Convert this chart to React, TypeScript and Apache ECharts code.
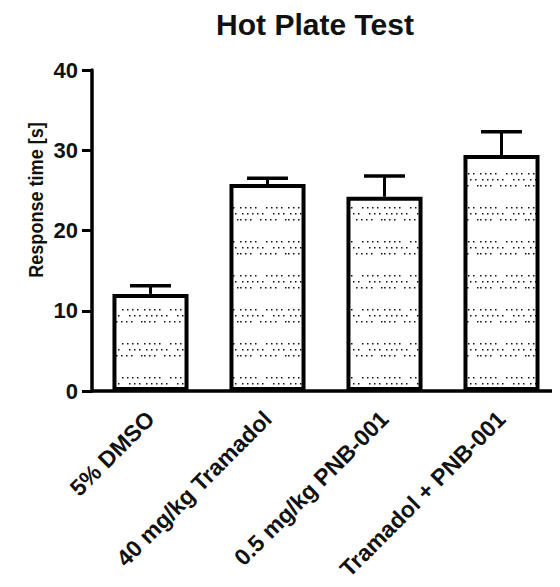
import React, { useEffect, useRef } from "react";
import * as echarts from "echarts";

const categories = ["5% DMSO", "40 mg/kg Tramadol", "0.5 mg/kg PNB-001", "Tramadol + PNB-001"];
const means = [12.1, 25.8, 24.2, 29.4];
const upperErrors = [1.0, 0.7, 2.6, 2.9];
const yTicks = [0, 10, 20, 30, 40];
const titleText = "Hot Plate Test";
const yTitle = "Response time [s]";

function makePattern(): HTMLCanvasElement {
  const c = document.createElement("canvas");
  const W = 48;
  const H = 34;
  c.width = W;
  c.height = H;
  const ctx = c.getContext("2d")!;
  ctx.fillStyle = "#ffffff";
  ctx.fillRect(0, 0, W, H);
  ctx.fillStyle = "#111111";
  const rows = [
    { y: 3, xs: [0, 5, 10, 15, 26, 31, 36, 41] },
    { y: 9, xs: [2, 7, 12, 17, 22, 33, 38, 43] },
    { y: 15, xs: [0, 5, 10, 20, 25, 30, 35, 45] },
  ];
  rows.forEach((r) => r.xs.forEach((x) => ctx.fillRect(x, r.y, 1.5, 1.5)));
  return c;
}

export default function App() {
  const ref = useRef<HTMLDivElement>(null);
  useEffect(() => {
    if (!ref.current) return;
    const chart = echarts.init(ref.current, undefined, { renderer: "svg" });
    const pat = makePattern();
    const font = "'Liberation Sans', Arial, sans-serif";
    chart.setOption({
      animation: false,
      backgroundColor: "#ffffff",
      title: {
        text: titleText,
        left: 310,
        top: 4,
        textAlign: "center",
        textStyle: { fontFamily: font, fontWeight: "bold", fontSize: 30, color: "#111" },
      },
      graphic: [
        {
          type: "text",
          x: 35,
          y: 200,
          rotation: Math.PI / 2,
          scaleX: 0.86,
          style: {
            text: yTitle,
            fontFamily: font,
            fontWeight: "bold",
            fontSize: 21,
            fill: "#111",
            textAlign: "center",
            textVerticalAlign: "middle",
          },
        },
      ],
      grid: { left: 92, top: 70, width: 478, height: 321, containLabel: false },
      xAxis: {
        type: "category",
        data: categories,
        boundaryGap: true,
        axisLine: { lineStyle: { color: "#000", width: 3.5 } },
        axisTick: { alignWithLabel: true, length: 9, lineStyle: { color: "#000", width: 3 } },
        axisLabel: {
          rotate: 45,
          interval: 0,
          margin: 24,
          fontFamily: font,
          fontWeight: "bold",
          fontSize: 23,
          color: "#111",
        },
      },
      yAxis: {
        type: "value",
        min: yTicks[0],
        max: yTicks[yTicks.length - 1],
        interval: 10,
        splitLine: { show: false },
        axisLine: { show: true, lineStyle: { color: "#000", width: 3.5 } },
        axisTick: { show: true, length: 10, lineStyle: { color: "#000", width: 3 } },
        axisLabel: {
          margin: 14,
          fontFamily: font,
          fontWeight: "bold",
          fontSize: 22,
          color: "#111",
        },
      },
      series: [
        {
          type: "custom",
          z: 1,
          data: means.map((m, i) => [i, m, upperErrors[i]]),
          encode: { x: 0, y: 1 },
          renderItem: (params: any, api: any) => {
            const x = api.value(0);
            const m = api.value(1);
            const e = api.value(2);
            const p0 = api.coord([x, m]);
            const p1 = api.coord([x, m + e]);
            const w = api.size([1, 0])[0] * 0.35;
            return {
              type: "group",
              children: [
                {
                  type: "line",
                  shape: { x1: p0[0], y1: p0[1], x2: p1[0], y2: p1[1] },
                  style: { stroke: "#000", lineWidth: 3 },
                },
                {
                  type: "line",
                  shape: { x1: p1[0] - w / 2, y1: p1[1], x2: p1[0] + w / 2, y2: p1[1] },
                  style: { stroke: "#000", lineWidth: 3.5 },
                },
              ],
            };
          },
        },
        {
          type: "bar",
          z: 2,
          data: means,
          barWidth: "65%",
          itemStyle: {
            color: { image: pat, repeat: "repeat", imageWidth: 48, imageHeight: 34 } as any,
            borderColor: "#000",
            borderWidth: 4,
          },
        },
      ],
    });
    return () => chart.dispose();
  }, []);
  return <div ref={ref} style={{ width: 560, height: 587, margin: -8 }} />;
}
